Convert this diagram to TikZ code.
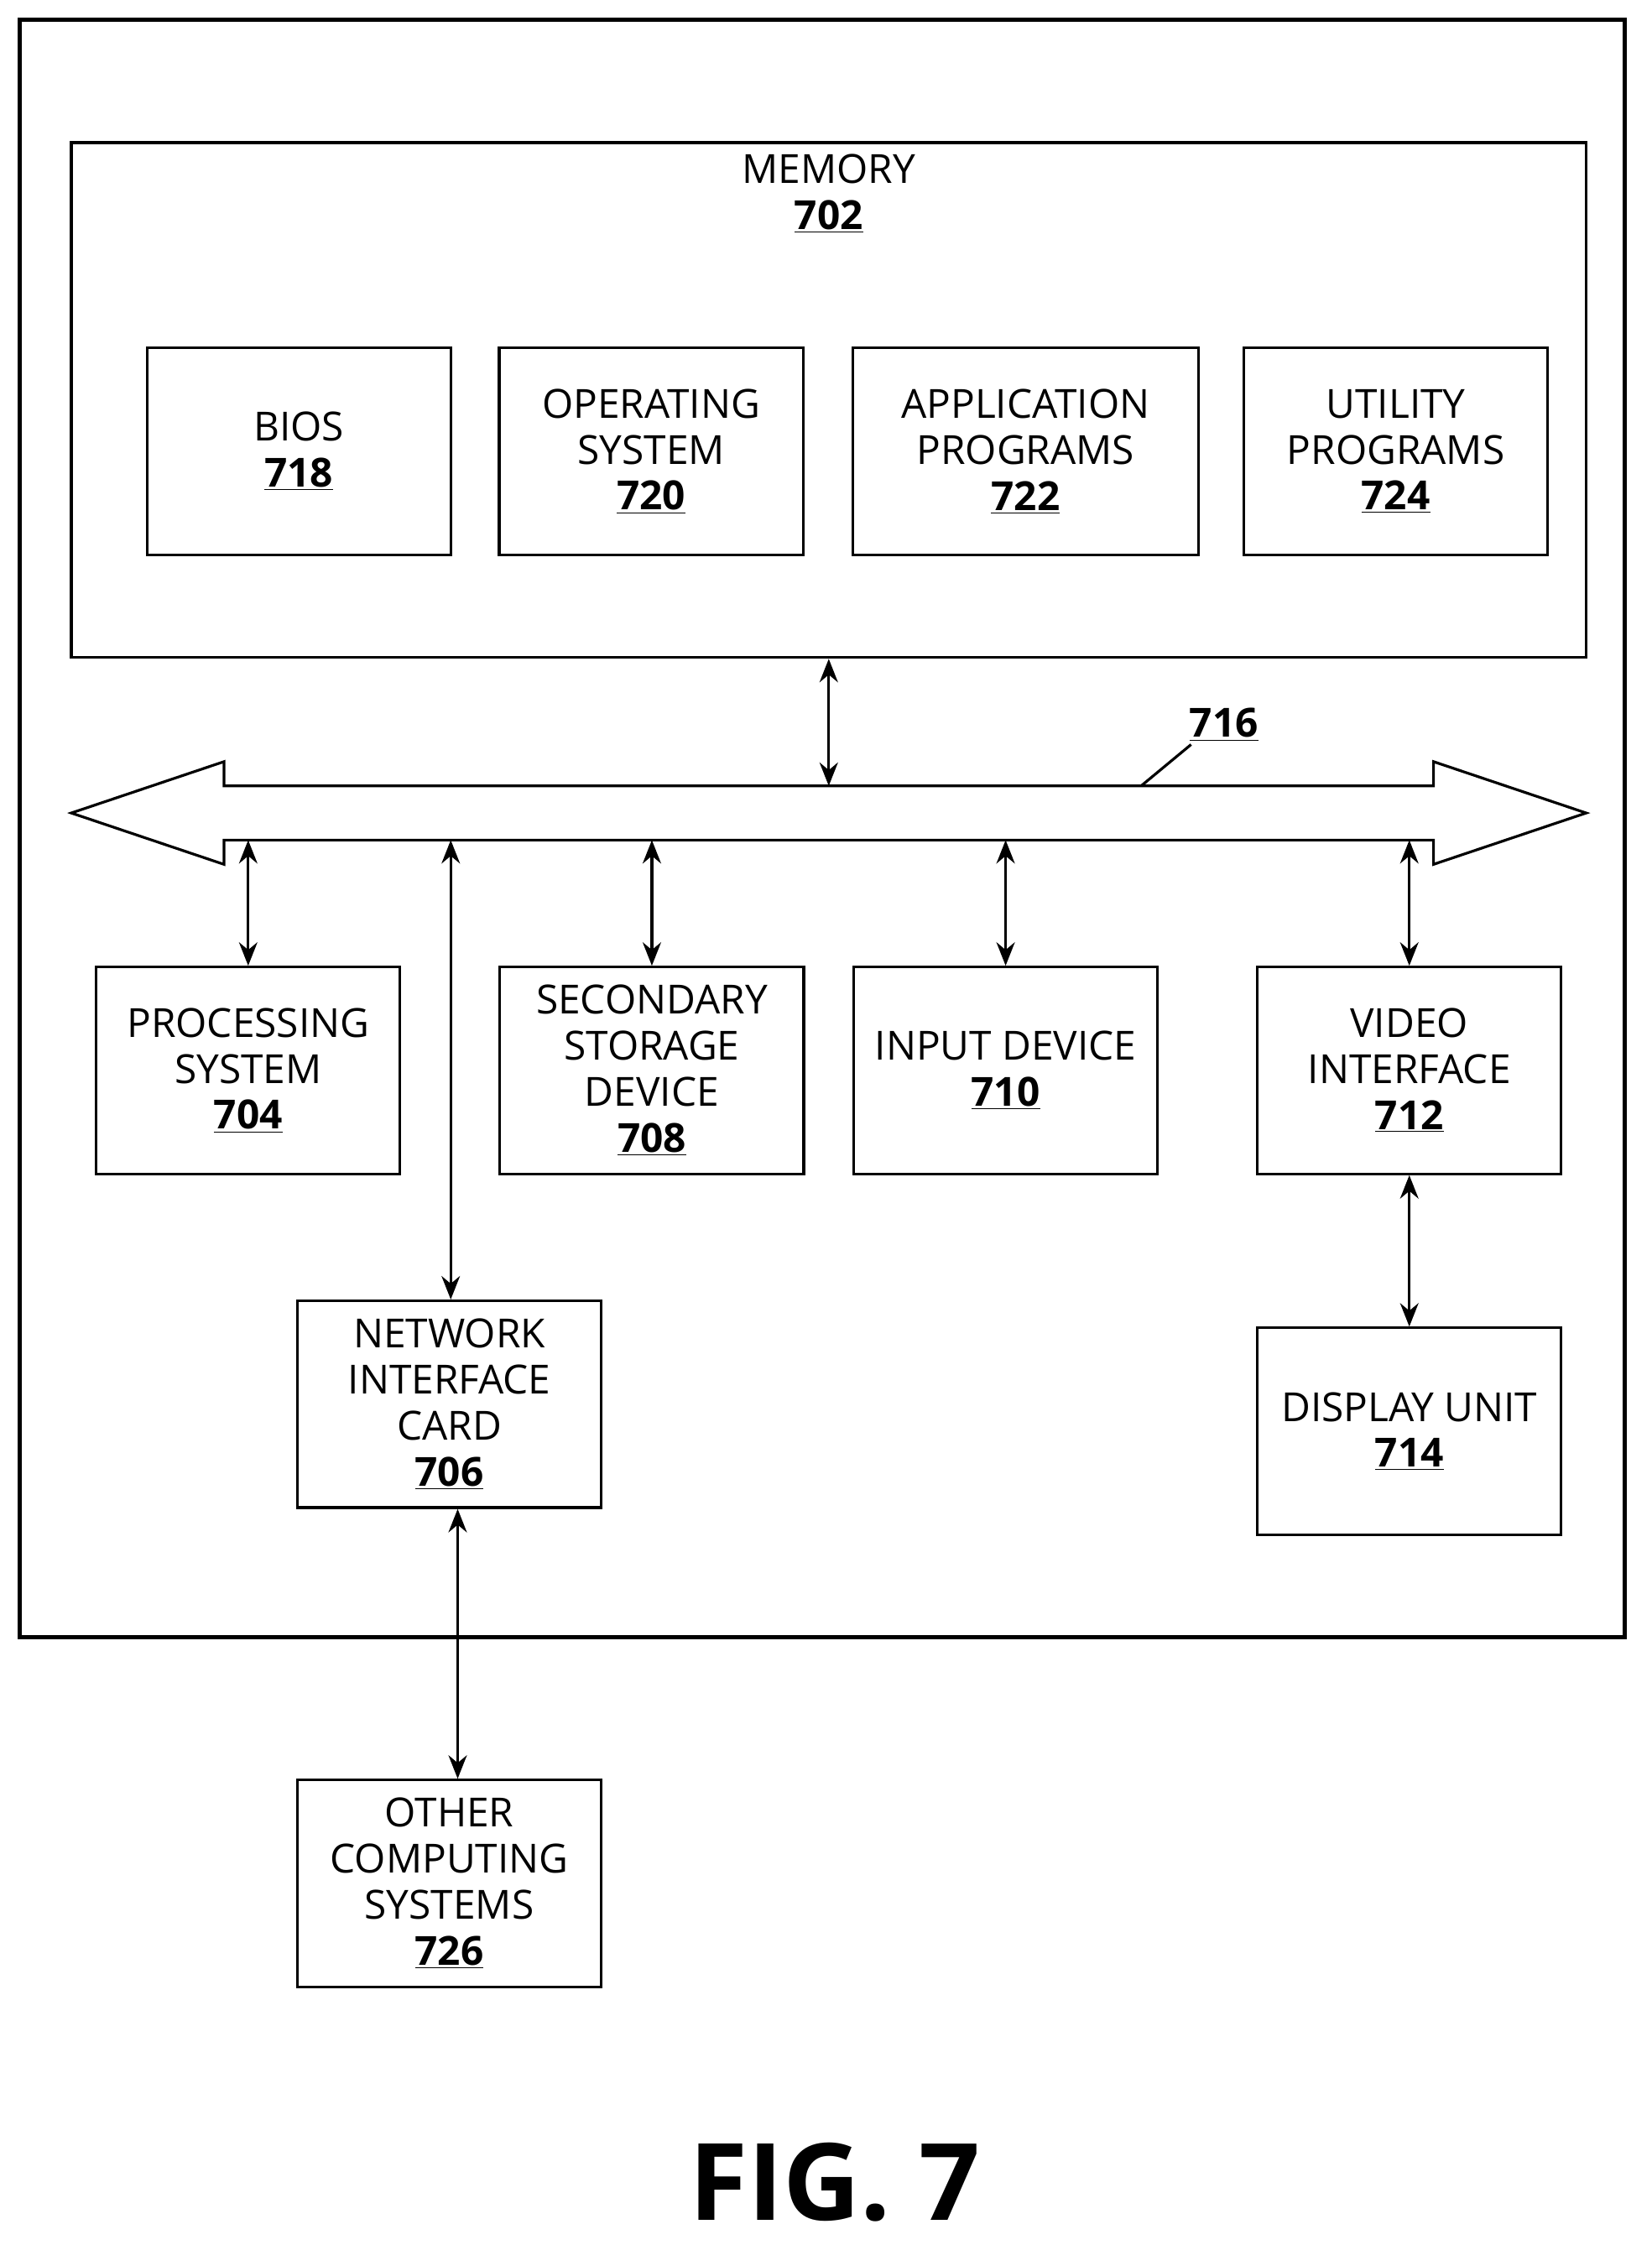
\documentclass[tikz,border=0pt]{standalone}
\usepackage{fontspec}
\setmainfont{Open Sans}
\usetikzlibrary{arrows.meta,positioning}
\newcommand{\refnum}[1]{\underline{\textbf{#1}}}
\begin{document}
\begin{tikzpicture}[x=0.03cm, y=-0.03cm,
  box/.style={rectangle, draw, line width=1.6pt, minimum width=6.39cm, minimum height=4.35cm, align=center, font=\fontsize{24}{27.5}\selectfont, inner sep=2pt},
  arr/.style={{Stealth[length=14pt,width=11pt]}-{Stealth[length=14pt,width=11pt]}, line width=1.6pt}
]
\useasboundingbox (0,0) rectangle (1158,1574);

% Outer system
\draw[line width=2.6pt] (14,14) rectangle (1139,1148);

% Memory
\node[box, minimum width=31.86cm, minimum height=10.83cm] (mem) at (581,280.5) {};
\node[font=\fontsize{24}{27.5}\selectfont, align=center, anchor=north] (memlbl) at (581,104) {MEMORY\\\refnum{702}};
\node[box] (bios) at (209.5,316.5) {BIOS\\\refnum{718}};
\node[box] (os) at (456.5,316.5) {OPERATING\\SYSTEM\\\refnum{720}};
\node[box, minimum width=7.26cm] (app) at (719,316.5) {APPLICATION\\PROGRAMS\\\refnum{722}};
\node[box] (util) at (978.5,316.5) {UTILITY\\PROGRAMS\\\refnum{724}};

% Bus
\draw[line width=1.6pt] (50,570) -- (157,534) -- (157,551) -- (1005,551) -- (1005,534) -- (1112,570)
  -- (1005,606) -- (1005,589) -- (157,589) -- (157,606) -- cycle;
\coordinate (bmem) at (581,551);
\coordinate (bproc) at (174,589);
\coordinate (bnet) at (316,589);
\coordinate (bsec) at (457,589);
\coordinate (binp) at (705,589);
\coordinate (bvid) at (988,589);
\coordinate (bref) at (800,551);
\node[font=\fontsize{24}{27.5}\selectfont, inner sep=1pt] (buslbl) at (858,508) {\refnum{716}};
\draw[line width=1.6pt] (bref) -- (835,522);

% Devices
\node[box] (proc) at (174,750.5) {PROCESSING\\SYSTEM\\\refnum{704}};
\node[box] (sec) at (457,750.5) {SECONDARY\\STORAGE\\DEVICE\\\refnum{708}};
\node[box] (inp) at (705,750.5) {INPUT DEVICE\\\refnum{710}};
\node[box] (vid) at (988,750.5) {VIDEO\\INTERFACE\\\refnum{712}};
\node[box] (nic) at (315,984.5) {NETWORK\\INTERFACE\\CARD\\\refnum{706}};
\node[box] (disp) at (988,1003.5) {DISPLAY UNIT\\\refnum{714}};
\node[box] (other) at (315,1320.5) {OTHER\\COMPUTING\\SYSTEMS\\\refnum{726}};

\draw[arr] (mem.south) -- (bmem);
\draw[arr] (bproc) -- (proc.north);
\draw[arr] (bnet) -- (bnet |- nic.north);
\draw[arr] (bsec) -- (sec.north);
\draw[arr] (binp) -- (inp.north);
\draw[arr] (bvid) -- (vid.north);
\draw[arr] (vid.south) -- (disp.north);
\draw[arr] ([xshift=5]nic.south) -- ([xshift=5]other.north);

% Caption
\node[font=\fontsize{64}{70}\selectfont\bfseries] (fig) at (585,1530) {FIG. 7};
\end{tikzpicture}
\end{document}
